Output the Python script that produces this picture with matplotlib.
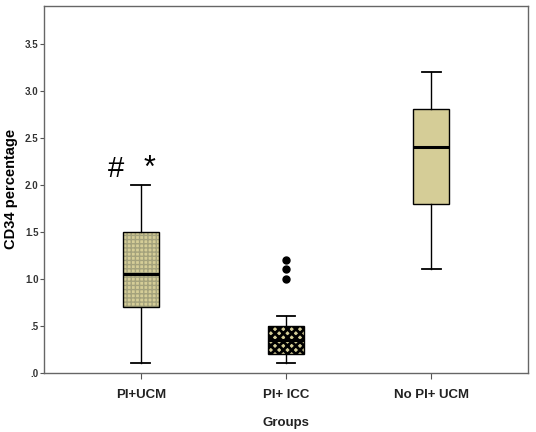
import matplotlib
matplotlib.use("Agg")
import matplotlib.pyplot as plt
from matplotlib.patches import PathPatch

plt.rcParams['font.family'] = ['Liberation Sans', 'DejaVu Sans']

# group summary values
groups = ["PI+UCM", "PI+ ICC", "No PI+ UCM"]
whislo = [0.1, 0.1, 1.1]
q1 = [0.7, 0.2, 1.8]
med = [1.05, 0.35, 2.4]
q3 = [1.5, 0.5, 2.8]
whishi = [2.0, 0.6, 3.2]
outliers = [[], [1.0, 1.1, 1.2], []]
yticks = [0.0, 0.5, 1.0, 1.5, 2.0, 2.5, 3.0, 3.5]
ytick_labels = [".0", ".5", "1.0", "1.5", "2.0", "2.5", "3.0", "3.5"]

tan = "#d5cd97"
stats = []
for i in range(len(groups)):
    stats.append({"label": groups[i], "whislo": whislo[i], "q1": q1[i], "med": med[i],
                  "q3": q3[i], "whishi": whishi[i], "fliers": outliers[i]})

fig = plt.figure(figsize=(5.36, 4.32), dpi=100)
ax = fig.add_axes([0.082, 0.137, 0.903, 0.849])

bp = ax.bxp(stats, positions=[0, 1, 2], widths=0.25, patch_artist=True,
            boxprops=dict(facecolor=tan, edgecolor="black", linewidth=1.0),
            medianprops=dict(color="black", linewidth=2.2),
            whiskerprops=dict(color="black", linewidth=1.0),
            capprops=dict(color="black", linewidth=1.3), capwidths=0.13,
            flierprops=dict(marker="o", markerfacecolor="black", markeredgecolor="black",
                            markersize=5, linestyle="none"))

# hatch fills, then outline on top
hatches = [("++++", "#a4a27c", 1.0), ("xxxx", "black", 2.0), (None, None, 0)]
for box, (h, hc, hw) in zip(bp["boxes"], hatches):
    box.set_edgecolor("none")
    if h:
        with plt.rc_context({"hatch.linewidth": hw}):
            hp = PathPatch(box.get_path(), facecolor="none", edgecolor=hc,
                           hatch=h, linewidth=0, zorder=box.get_zorder() + 0.1)
            ax.add_patch(hp)
    ax.add_patch(PathPatch(box.get_path(), facecolor="none", edgecolor="black",
                           linewidth=1.0, zorder=box.get_zorder() + 0.2))
for m in bp["medians"]:
    m.set_zorder(5)

ax.text(-0.17, 2.08, "#", fontsize=21, ha="center", va="baseline")
ax.text(0.06, 2.08, "*", fontsize=22, ha="center", va="baseline")

ax.set_xlim(-0.667, 2.667)
ax.set_ylim(0, 3.9)
ax.set_yticks(yticks)
ax.set_yticklabels(ytick_labels, fontsize=7, fontweight="bold", color="#333333")
ax.set_xticks([0, 1, 2])
ax.set_xticklabels(groups, fontsize=9.5, fontweight="bold", color="#222222")
ax.tick_params(axis="y", length=3, width=0.8, color="#555555", pad=1)
ax.tick_params(axis="x", length=4, width=0.8, color="#555555", pad=8)
ax.set_ylabel("CD34 percentage", fontsize=10.5, fontweight="bold", labelpad=5)
ax.set_xlabel("Groups", fontsize=9.5, fontweight="bold", labelpad=11, color="#222222")
for s in ax.spines.values():
    s.set_color("#666666")
    s.set_linewidth(1.0)

fig.savefig("out.png", dpi=100)
